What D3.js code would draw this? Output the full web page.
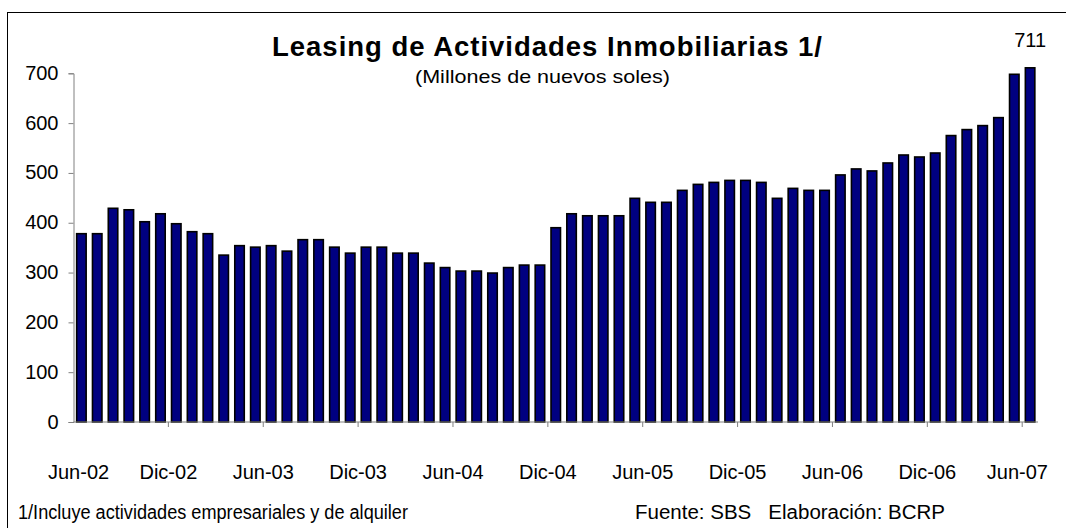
<!DOCTYPE html>
<html>
<head>
<meta charset="utf-8">
<script src="https://cdn.jsdelivr.net/npm/d3@7"></script>
<style>
    body { margin: 0; background: #fff; }
    text { font-family: "Liberation Sans", Arial, sans-serif; fill: #000; }
</style>
</head>
<body>
<div id="vis"></div>
<script>
var width = 1066;
var height = 528;

// categorias mensuales Jun-02 ... Jun-07
var months = ['Ene', 'Feb', 'Mar', 'Abr', 'May', 'Jun', 'Jul', 'Ago', 'Set', 'Oct', 'Nov', 'Dic'];
var years = ['02', '03', '04', '05', '06', '07'];

var leasing = [378, 378, 429, 426, 402, 418, 398, 382, 378, 335,
    354, 351, 354, 343, 366, 366, 351, 339, 351, 351,
    339, 339, 319, 310, 303, 303, 299, 310, 315, 315,
    390, 418, 414, 414, 414, 449, 441, 441, 465, 477,
    481, 485, 485, 481, 449, 469, 465, 465, 496, 508,
    504, 520, 536, 532, 540, 575, 587, 595, 611, 698,
    711];

var tickLabels = ['Jun-02', 'Dic-02', 'Jun-03', 'Dic-03', 'Jun-04', 'Dic-04',
    'Jun-05', 'Dic-05', 'Jun-06', 'Dic-06', 'Jun-07'];

var yTicks = [0, 100, 200, 300, 400, 500, 600, 700];

var categories = [];
years.forEach(function (y) {
    months.forEach(function (m) {
        categories.push(m + '-' + y);
    });
});
categories = categories.slice(categories.indexOf('Jun-02'), categories.indexOf('Jun-07') + 1);

var margin = {left: 73.5, right: 28, top: 73.3, bottom: 106};

var x = d3.scaleBand()
    .domain(categories)
    .range([margin.left, width - margin.right])
    .paddingInner(0.4)
    .paddingOuter(0.2);

var y = d3.scaleLinear()
    .domain([0, 700])
    .range([height - margin.bottom, margin.top]);

function slotStart(c) {
    return x(c) + x.bandwidth() / 2 - x.step() / 2;
}

var svg = d3.select('#vis')
    .append('svg')
    .attr('width', width)
    .attr('height', height);

// marco exterior
svg.append('rect')
    .attr('x', 7.5)
    .attr('y', 12.5)
    .attr('width', width)
    .attr('height', height)
    .attr('fill', 'none')
    .attr('stroke', '#000')
    .attr('stroke-width', 1);

// barras
svg.selectAll('.bar')
    .data(leasing)
    .enter().append('rect')
    .attr('class', 'bar')
    .attr('x', function (d, i) { return x(categories[i]); })
    .attr('y', function (d) { return y(d); })
    .attr('width', x.bandwidth())
    .attr('height', function (d) { return y(0) - y(d); })
    .attr('fill', '#000080')
    .attr('stroke', '#000')
    .attr('stroke-width', 1.6);

// eje Y
var yAxis = svg.append('g')
    .attr('transform', 'translate(' + margin.left + ',0)')
    .call(d3.axisLeft(y).tickValues(yTicks).tickSize(5).tickPadding(10));
yAxis.select('.domain').attr('stroke', '#808080');
yAxis.selectAll('.tick line').attr('stroke', '#808080');
yAxis.selectAll('.tick text')
    .attr('font-size', 20)
    .attr('dy', '0.3em')
    .style('font-family', '"Liberation Sans", Arial, sans-serif');

// eje X
var xBase = y(0);
svg.append('line')
    .attr('x1', margin.left)
    .attr('x2', width - margin.right)
    .attr('y1', xBase)
    .attr('y2', xBase)
    .attr('stroke', '#808080');

svg.selectAll('.xtick')
    .data(tickLabels.slice(1))
    .enter().append('line')
    .attr('class', 'xtick')
    .attr('x1', function (d) { return slotStart(d); })
    .attr('x2', function (d) { return slotStart(d); })
    .attr('y1', xBase)
    .attr('y2', xBase + 5)
    .attr('stroke', '#808080');

svg.selectAll('.xlabel')
    .data(tickLabels)
    .enter().append('text')
    .attr('class', 'xlabel')
    .attr('font-size', 20)
    .attr('text-anchor', 'middle')
    .attr('y', 479)
    .text(function (d) { return d; })
    .attr('x', function (d) {
        var w = this.getComputedTextLength();
        var cx = slotStart(d);
        cx = Math.max(cx, 48 + w / 2);
        cx = Math.min(cx, 1048 - w / 2);
        return cx;
    });

// titulos
svg.append('text')
    .attr('x', 272)
    .attr('y', 56)
    .attr('font-size', 27.5)
    .attr('font-weight', 'bold')
    .attr('textLength', 550)
    .attr('lengthAdjust', 'spacing')
    .text('Leasing de Actividades Inmobiliarias 1/');

svg.append('text')
    .attr('x', 415)
    .attr('y', 83)
    .attr('font-size', 19)
    .attr('textLength', 255)
    .attr('lengthAdjust', 'spacingAndGlyphs')
    .text('(Millones de nuevos soles)');

// etiqueta del ultimo dato
var last = categories[categories.length - 1];
svg.append('text')
    .attr('x', x(last) + x.bandwidth() / 2)
    .attr('y', 47)
    .attr('font-size', 20)
    .attr('text-anchor', 'middle')
    .text(leasing[leasing.length - 1]);

// notas
svg.append('text')
    .attr('x', 18)
    .attr('y', 519)
    .attr('font-size', 19.5)
    .attr('textLength', 390)
    .attr('lengthAdjust', 'spacingAndGlyphs')
    .text('1/Incluye actividades empresariales y de alquiler');

svg.append('text')
    .attr('x', 635)
    .attr('y', 519)
    .attr('font-size', 19.5)
    .attr('textLength', 310)
    .attr('lengthAdjust', 'spacingAndGlyphs')
    .style('white-space', 'pre')
    .text('Fuente: SBS   Elaboración: BCRP');
</script>
</body>
</html>
